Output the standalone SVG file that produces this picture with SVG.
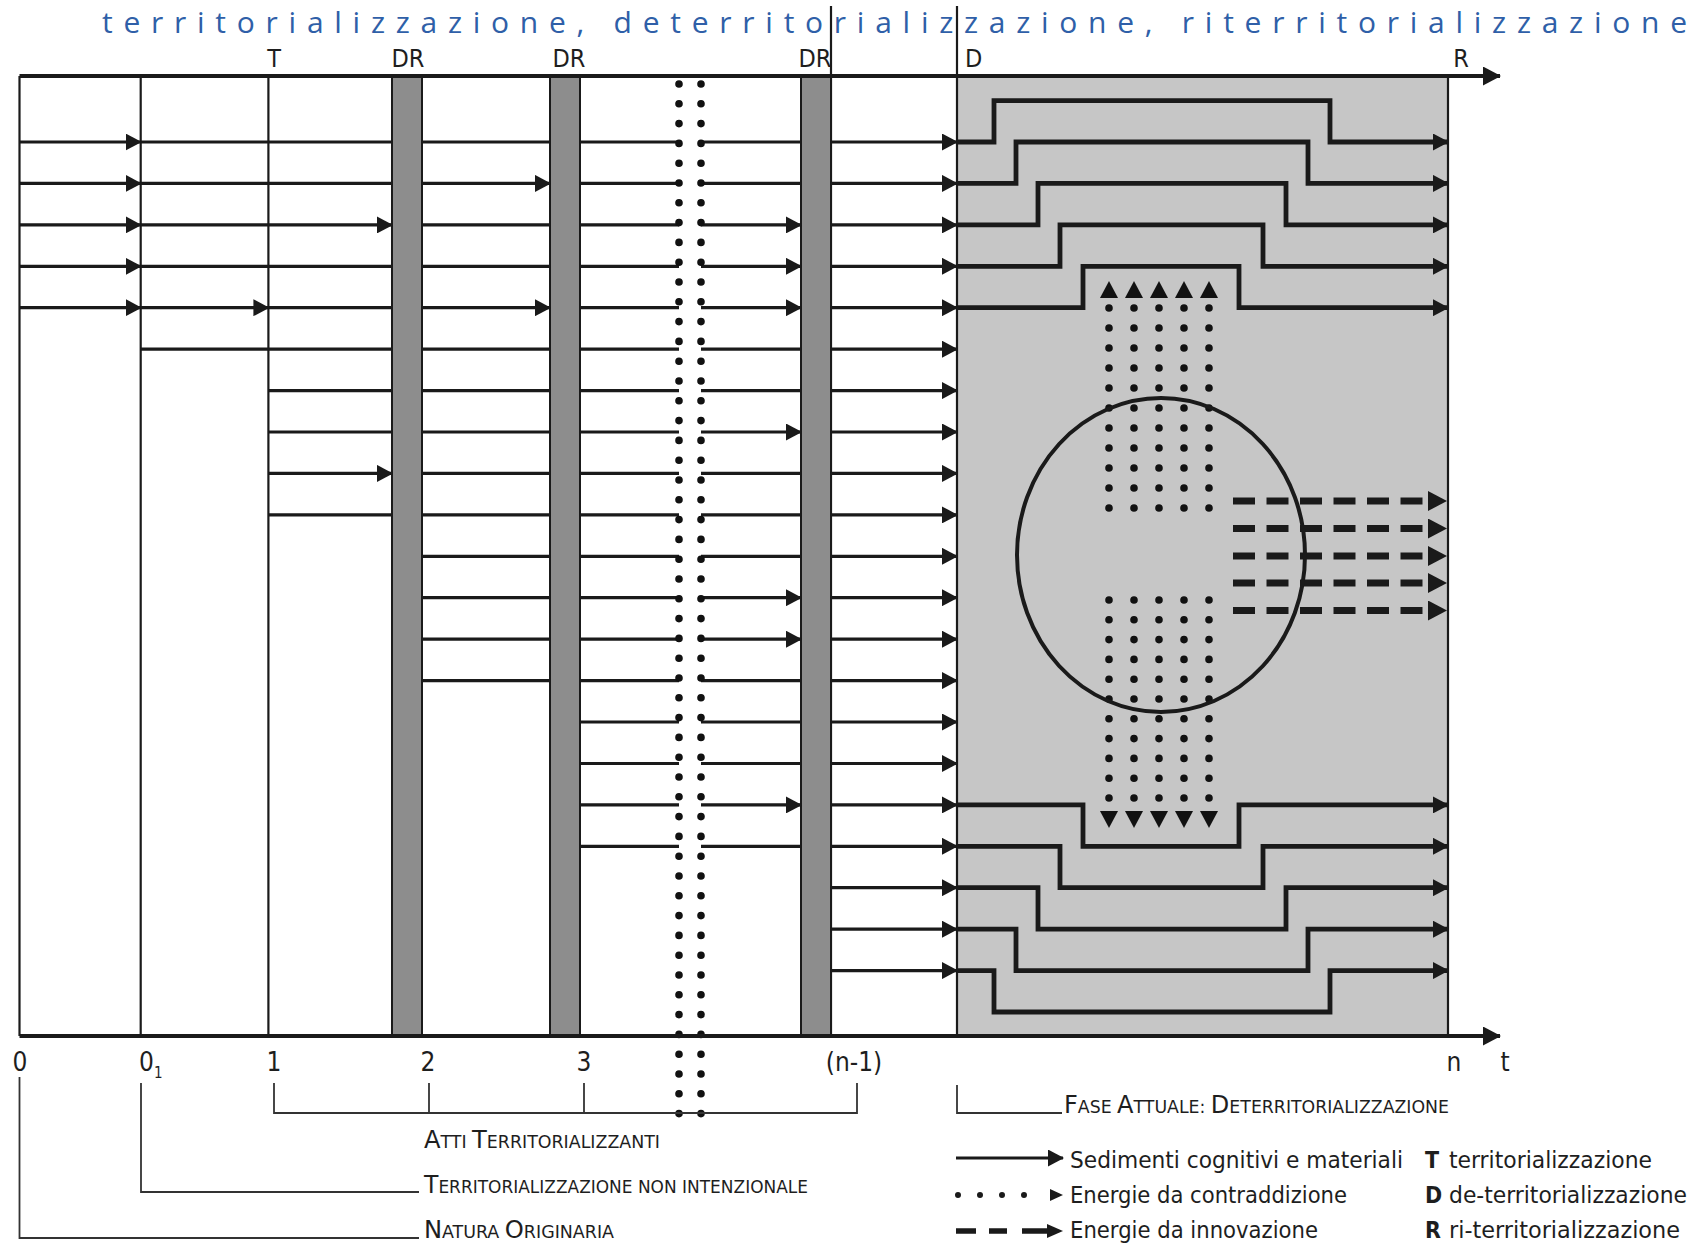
<svg xmlns="http://www.w3.org/2000/svg" width="1697" height="1245" viewBox="0 0 1697 1245">
<style>
.ln{stroke:#1a1a1a;stroke-width:3.2;fill:none}
.ar{marker-end:url(#ah)}
.vl{stroke:#1a1a1a;stroke-width:2.2;fill:none}
.st{stroke:#1a1a1a;stroke-width:4.8;fill:none;stroke-linejoin:miter;marker-end:url(#ah)}
.dc{stroke:#111;stroke-width:7.6;stroke-linecap:round;fill:none}
.dg{stroke:#111;stroke-width:7.6;stroke-linecap:round;fill:none}
.ds{stroke:#1a1a1a;stroke-width:7;stroke-dasharray:22 11.5;fill:none;marker-end:url(#ahd)}
.ld{stroke:#333;stroke-width:1.8;fill:none}
.bar{fill:#8d8d8d;stroke:#1a1a1a;stroke-width:2}
.lb{font-family:'DejaVu Sans Condensed','DejaVu Sans',sans-serif;font-stretch:condensed;fill:#1e1e1e}
.lg{font-family:'DejaVu Sans Condensed','DejaVu Sans',sans-serif;font-stretch:condensed;fill:#1e1e1e;font-size:23px}
</style>
<defs>
<marker id="ah" markerUnits="userSpaceOnUse" markerWidth="16" markerHeight="17" viewBox="0 0 16 17" refX="15" refY="8.5" orient="auto"><path d="M0,0 L16,8.5 L0,17 z" fill="#1a1a1a"/></marker>
<marker id="axh" markerUnits="userSpaceOnUse" markerWidth="18" markerHeight="19" viewBox="0 0 18 19" refX="17" refY="9.5" orient="auto"><path d="M0,0 L18,9.5 L0,19 z" fill="#1a1a1a"/></marker>
<marker id="ahd" markerUnits="userSpaceOnUse" markerWidth="19" markerHeight="20" viewBox="0 0 19 20" refX="0" refY="10" orient="auto"><path d="M0,0 L19,10 L0,20 z" fill="#1a1a1a"/></marker>
<marker id="tri" markerUnits="userSpaceOnUse" markerWidth="17" markerHeight="18" viewBox="0 0 17 18" refX="0" refY="9" orient="auto"><path d="M0,0 L17,9 L0,18 z" fill="#111"/></marker>
</defs>
<rect width="1697" height="1245" fill="#ffffff"/>

<text id="header" x="102" y="33" font-family="'Open Sans','Liberation Sans',sans-serif" font-size="30" fill="#2f5fa8" textLength="1585" lengthAdjust="spacing">territorializzazione, deterritorializzazione, riterritorializzazione</text>

<g id="phase-d-area">
<rect x="957" y="76" width="491" height="960" fill="#c6c6c6"/>
</g>

<g id="frame">
<line class="vl" x1="19.5" y1="76" x2="19.5" y2="1036" stroke-width="3"/>
<line class="vl" x1="140.7" y1="76" x2="140.7" y2="1036"/>
<line class="vl" x1="268.4" y1="76" x2="268.4" y2="1036"/>
<line class="vl" x1="831" y1="6" x2="831" y2="1036" stroke-width="2.6"/>
<line class="vl" x1="957" y1="6" x2="957" y2="1036"/>
<line class="vl" x1="1448" y1="76" x2="1448" y2="1036" stroke-width="3"/>
</g>

<g id="dr-bars">
<rect id="dr1" class="bar" x="392" y="76" width="30" height="960"/>
<rect id="dr2" class="bar" x="550" y="76" width="30" height="960"/>
<rect id="dr3" class="bar" x="801" y="76" width="30" height="960"/>
</g>

<g id="connectors">
<line class="ln ar" x1="19.5" y1="142" x2="140.7" y2="142"/>
<line class="ln ar" x1="19.5" y1="183.4" x2="140.7" y2="183.4"/>
<line class="ln ar" x1="19.5" y1="224.9" x2="140.7" y2="224.9"/>
<line class="ln ar" x1="19.5" y1="266.3" x2="140.7" y2="266.3"/>
<line class="ln ar" x1="19.5" y1="307.7" x2="140.7" y2="307.7"/>
<line class="ln" x1="140.7" y1="142" x2="392" y2="142"/>
<line class="ln" x1="140.7" y1="183.4" x2="392" y2="183.4"/>
<line class="ln ar" x1="140.7" y1="224.9" x2="392" y2="224.9"/>
<line class="ln" x1="140.7" y1="266.3" x2="392" y2="266.3"/>
<line class="ln ar" x1="140.7" y1="307.7" x2="268.4" y2="307.7"/>
<line class="ln" x1="268.4" y1="307.7" x2="392" y2="307.7"/>
<line class="ln" x1="140.7" y1="349.2" x2="392" y2="349.2"/>
<line class="ln" x1="268.4" y1="390.6" x2="392" y2="390.6"/>
<line class="ln" x1="268.4" y1="432" x2="392" y2="432"/>
<line class="ln ar" x1="268.4" y1="473.4" x2="392" y2="473.4"/>
<line class="ln" x1="268.4" y1="514.9" x2="392" y2="514.9"/>
<line class="ln" x1="422" y1="142" x2="550" y2="142"/>
<line class="ln ar" x1="422" y1="183.4" x2="550" y2="183.4"/>
<line class="ln" x1="422" y1="224.9" x2="550" y2="224.9"/>
<line class="ln" x1="422" y1="266.3" x2="550" y2="266.3"/>
<line class="ln ar" x1="422" y1="307.7" x2="550" y2="307.7"/>
<line class="ln" x1="422" y1="349.2" x2="550" y2="349.2"/>
<line class="ln" x1="422" y1="390.6" x2="550" y2="390.6"/>
<line class="ln" x1="422" y1="432" x2="550" y2="432"/>
<line class="ln" x1="422" y1="473.4" x2="550" y2="473.4"/>
<line class="ln" x1="422" y1="514.9" x2="550" y2="514.9"/>
<line class="ln" x1="422" y1="556.3" x2="550" y2="556.3"/>
<line class="ln" x1="422" y1="597.7" x2="550" y2="597.7"/>
<line class="ln" x1="422" y1="639.2" x2="550" y2="639.2"/>
<line class="ln" x1="422" y1="680.6" x2="550" y2="680.6"/>
<path class="ln" d="M580,142H679M580,183.4H679M580,224.9H679M580,266.3H679M580,307.7H679M580,349.2H679M580,390.6H679M580,432H679M580,473.4H679M580,514.9H679M580,556.3H679M580,597.7H679M580,639.2H679M580,680.6H679M580,722H679M580,763.5H679M580,804.9H679M580,846.3H679"/>
<line class="ln" x1="701" y1="142" x2="801" y2="142"/>
<line class="ln" x1="701" y1="183.4" x2="801" y2="183.4"/>
<line class="ln ar" x1="701" y1="224.9" x2="801" y2="224.9"/>
<line class="ln ar" x1="701" y1="266.3" x2="801" y2="266.3"/>
<line class="ln ar" x1="701" y1="307.7" x2="801" y2="307.7"/>
<line class="ln" x1="701" y1="349.2" x2="801" y2="349.2"/>
<line class="ln" x1="701" y1="390.6" x2="801" y2="390.6"/>
<line class="ln ar" x1="701" y1="432" x2="801" y2="432"/>
<line class="ln" x1="701" y1="473.4" x2="801" y2="473.4"/>
<line class="ln" x1="701" y1="514.9" x2="801" y2="514.9"/>
<line class="ln" x1="701" y1="556.3" x2="801" y2="556.3"/>
<line class="ln ar" x1="701" y1="597.7" x2="801" y2="597.7"/>
<line class="ln ar" x1="701" y1="639.2" x2="801" y2="639.2"/>
<line class="ln" x1="701" y1="680.6" x2="801" y2="680.6"/>
<line class="ln" x1="701" y1="722" x2="801" y2="722"/>
<line class="ln" x1="701" y1="763.5" x2="801" y2="763.5"/>
<line class="ln ar" x1="701" y1="804.9" x2="801" y2="804.9"/>
<line class="ln" x1="701" y1="846.3" x2="801" y2="846.3"/>
<line class="ln ar" x1="831" y1="142" x2="957" y2="142"/>
<line class="ln ar" x1="831" y1="183.4" x2="957" y2="183.4"/>
<line class="ln ar" x1="831" y1="224.9" x2="957" y2="224.9"/>
<line class="ln ar" x1="831" y1="266.3" x2="957" y2="266.3"/>
<line class="ln ar" x1="831" y1="307.7" x2="957" y2="307.7"/>
<line class="ln ar" x1="831" y1="349.2" x2="957" y2="349.2"/>
<line class="ln ar" x1="831" y1="390.6" x2="957" y2="390.6"/>
<line class="ln ar" x1="831" y1="432" x2="957" y2="432"/>
<line class="ln ar" x1="831" y1="473.4" x2="957" y2="473.4"/>
<line class="ln ar" x1="831" y1="514.9" x2="957" y2="514.9"/>
<line class="ln ar" x1="831" y1="556.3" x2="957" y2="556.3"/>
<line class="ln ar" x1="831" y1="597.7" x2="957" y2="597.7"/>
<line class="ln ar" x1="831" y1="639.2" x2="957" y2="639.2"/>
<line class="ln ar" x1="831" y1="680.6" x2="957" y2="680.6"/>
<line class="ln ar" x1="831" y1="722" x2="957" y2="722"/>
<line class="ln ar" x1="831" y1="763.5" x2="957" y2="763.5"/>
<line class="ln ar" x1="831" y1="804.9" x2="957" y2="804.9"/>
<line class="ln ar" x1="831" y1="846.3" x2="957" y2="846.3"/>
<line class="ln ar" x1="831" y1="887.7" x2="957" y2="887.7"/>
<line class="ln ar" x1="831" y1="929.2" x2="957" y2="929.2"/>
<line class="ln ar" x1="831" y1="970.6" x2="957" y2="970.6"/>
<polyline class="st" points="957,142 994,142 994,100.6 1330,100.6 1330,142 1448,142"/>
<polyline class="st" points="957,183.4 1016,183.4 1016,142 1308,142 1308,183.4 1448,183.4"/>
<polyline class="st" points="957,224.9 1038,224.9 1038,183.4 1286,183.4 1286,224.9 1448,224.9"/>
<polyline class="st" points="957,266.3 1060,266.3 1060,224.9 1263,224.9 1263,266.3 1448,266.3"/>
<polyline class="st" points="957,307.7 1083,307.7 1083,266.3 1239,266.3 1239,307.7 1448,307.7"/>
<polyline class="st" points="957,804.9 1083,804.9 1083,846.3 1239,846.3 1239,804.9 1448,804.9"/>
<polyline class="st" points="957,846.3 1060,846.3 1060,887.7 1263,887.7 1263,846.3 1448,846.3"/>
<polyline class="st" points="957,887.7 1038,887.7 1038,929.2 1286,929.2 1286,887.7 1448,887.7"/>
<polyline class="st" points="957,929.2 1016,929.2 1016,970.6 1308,970.6 1308,929.2 1448,929.2"/>
<polyline class="st" points="957,970.6 994,970.6 994,1012 1330,1012 1330,970.6 1448,970.6"/>
<path class="dg" stroke-dasharray="0 20" marker-end="url(#tri)" d="M1109,508V298"/>
<path class="dg" stroke-dasharray="0 20" marker-end="url(#tri)" d="M1134,508V298"/>
<path class="dg" stroke-dasharray="0 20" marker-end="url(#tri)" d="M1159,508V298"/>
<path class="dg" stroke-dasharray="0 20" marker-end="url(#tri)" d="M1184,508V298"/>
<path class="dg" stroke-dasharray="0 20" marker-end="url(#tri)" d="M1209,508V298"/>
<path class="dg" stroke-dasharray="0 19.8" marker-end="url(#tri)" d="M1109,600V811"/>
<path class="dg" stroke-dasharray="0 19.8" marker-end="url(#tri)" d="M1134,600V811"/>
<path class="dg" stroke-dasharray="0 19.8" marker-end="url(#tri)" d="M1159,600V811"/>
<path class="dg" stroke-dasharray="0 19.8" marker-end="url(#tri)" d="M1184,600V811"/>
<path class="dg" stroke-dasharray="0 19.8" marker-end="url(#tri)" d="M1209,600V811"/>
<line class="ds" x1="1233" y1="501" x2="1428" y2="501"/>
<line class="ds" x1="1233" y1="528.5" x2="1428" y2="528.5"/>
<line class="ds" x1="1233" y1="556" x2="1428" y2="556"/>
<line class="ds" x1="1233" y1="583" x2="1428" y2="583"/>
<line class="ds" x1="1233" y1="610.5" x2="1428" y2="610.5"/>
</g>

<g id="circle-node">
<ellipse cx="1161" cy="555" rx="144" ry="157" fill="none" stroke="#1a1a1a" stroke-width="4"/>
</g>

<g id="break-dots">
<line class="dc" stroke-dasharray="0 19.8" x1="679" y1="84" x2="679" y2="1114"/>
<line class="dc" stroke-dasharray="0 19.8" x1="701" y1="84" x2="701" y2="1114"/>
</g>

<g id="axes">
<line x1="19.5" y1="76" x2="1500" y2="76" stroke="#1a1a1a" stroke-width="4" marker-end="url(#axh)"/>
<line x1="19.5" y1="1036" x2="1500" y2="1036" stroke="#1a1a1a" stroke-width="4" marker-end="url(#axh)"/>
</g>

<g id="top-labels" class="lb" font-size="25">
<text x="274" y="67" text-anchor="middle">T</text>
<text x="408" y="67" text-anchor="middle">DR</text>
<text x="569" y="67" text-anchor="middle">DR</text>
<text x="815" y="67" text-anchor="middle">DR</text>
<text x="965" y="67">D</text>
<text x="1461" y="67" text-anchor="middle">R</text>
</g>

<g id="time-labels" class="lb" font-size="26">
<text x="20" y="1071" text-anchor="middle">0</text>
<text x="139" y="1071">0<tspan font-size="15" dy="7">1</tspan></text>
<text x="274" y="1071" text-anchor="middle">1</text>
<text x="428" y="1071" text-anchor="middle">2</text>
<text x="584" y="1071" text-anchor="middle">3</text>
<text x="854" y="1071" text-anchor="middle">(n-1)</text>
<text x="1454" y="1071" text-anchor="middle">n</text>
<text x="1505" y="1071" text-anchor="middle">t</text>
</g>

<g id="period-brackets">
<path class="ld" d="M274,1083V1113H857V1083M429,1083V1113M584,1083V1113"/>
<path class="ld" d="M141,1083V1192H419"/>
<path class="ld" d="M19.5,1077V1238H419"/>
<path class="ld" d="M957,1085V1113H1062"/>
</g>

<g id="period-labels" class="lb">
<text x="424" y="1148" textLength="236" lengthAdjust="spacingAndGlyphs"><tspan font-size="25">A</tspan><tspan font-size="18">TTI </tspan><tspan font-size="25">T</tspan><tspan font-size="18">ERRITORIALIZZANTI</tspan></text>
<text x="424" y="1193" textLength="384" lengthAdjust="spacingAndGlyphs"><tspan font-size="25">T</tspan><tspan font-size="18">ERRITORIALIZZAZIONE NON INTENZIONALE</tspan></text>
<text x="424" y="1238" textLength="190" lengthAdjust="spacingAndGlyphs"><tspan font-size="25">N</tspan><tspan font-size="18">ATURA </tspan><tspan font-size="25">O</tspan><tspan font-size="18">RIGINARIA</tspan></text>
<text x="1064" y="1113" textLength="385" lengthAdjust="spacingAndGlyphs"><tspan font-size="25">F</tspan><tspan font-size="18">ASE </tspan><tspan font-size="25">A</tspan><tspan font-size="18">TTUALE: </tspan><tspan font-size="25">D</tspan><tspan font-size="18">ETERRITORIALIZZAZIONE</tspan></text>
</g>

<g id="legend">
<line x1="956" y1="1158" x2="1063" y2="1158" stroke="#1a1a1a" stroke-width="3.2" marker-end="url(#ah)"/>
<path d="M958,1195H1046" stroke="#1a1a1a" stroke-width="6" stroke-linecap="round" stroke-dasharray="0 22" fill="none"/>
<path d="M1050,1189L1063,1195L1050,1201z" fill="#1a1a1a"/>
<path d="M956,1231H976M989,1231H1007M1022,1231H1047" stroke="#1a1a1a" stroke-width="5.5" fill="none"/>
<path d="M1047,1224L1063,1231L1047,1238z" fill="#1a1a1a"/>
<text class="lg" x="1070" y="1168" textLength="333" lengthAdjust="spacingAndGlyphs">Sedimenti cognitivi e materiali</text>
<text class="lg" x="1070" y="1203" textLength="277" lengthAdjust="spacingAndGlyphs">Energie da contraddizione</text>
<text class="lg" x="1070" y="1238" textLength="248" lengthAdjust="spacingAndGlyphs">Energie da innovazione</text>
<text class="lg" x="1425" y="1168" font-weight="bold">T</text>
<text class="lg" x="1449" y="1168" textLength="203" lengthAdjust="spacingAndGlyphs">territorializzazione</text>
<text class="lg" x="1425" y="1203" font-weight="bold">D</text>
<text class="lg" x="1449" y="1203" textLength="238" lengthAdjust="spacingAndGlyphs">de-territorializzazione</text>
<text class="lg" x="1425" y="1238" font-weight="bold">R</text>
<text class="lg" x="1449" y="1238" textLength="231" lengthAdjust="spacingAndGlyphs">ri-territorializzazione</text>
</g>
</svg>
